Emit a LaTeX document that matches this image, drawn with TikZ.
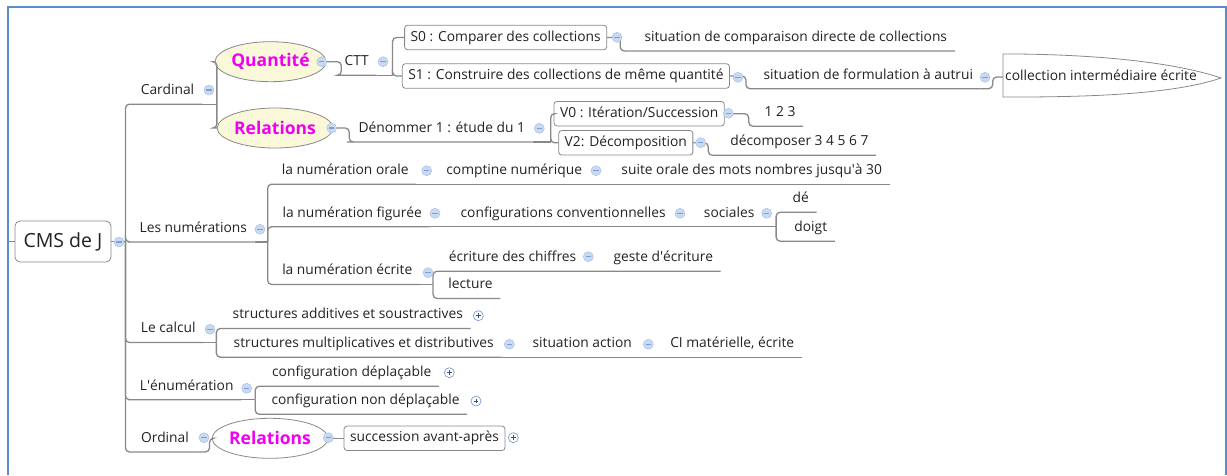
\documentclass[tikz,border=0pt]{standalone}
\usepackage{fontspec}
\setmainfont{Open Sans}
\usepackage{tikz}
\usetikzlibrary{shapes.geometric}

\definecolor{lnclr}{HTML}{888888}
\definecolor{txtclr}{HTML}{222222}
\definecolor{mkfill}{HTML}{C8DAF2}
\definecolor{mkring}{HTML}{A9C1E6}
\definecolor{mkbar}{HTML}{7F9DD3}
\definecolor{mkplus}{HTML}{2F4F8F}
\definecolor{ellfill}{HTML}{FBF8DA}
\definecolor{relclr}{HTML}{F000F0}
\definecolor{frameclr}{HTML}{5B8BCB}

\begin{document}
\begin{tikzpicture}[
  x=1pt, y=-1pt,
  conn/.style={draw=lnclr, line width=1.3pt, rounded corners=4pt},
  topic/.style={font=\fontsize{13.8}{16}\selectfont, text=txtclr,
                minimum height=26pt, inner xsep=7.5pt, inner ysep=0pt,
                text height=10.2pt, text depth=3.2pt},
  boxtopic/.style={topic, draw=lnclr, line width=0.8pt, rounded corners=3pt,
                   fill=white, minimum height=24.5pt, inner xsep=6pt},
  rootbox/.style={draw=lnclr, line width=0.8pt, rounded corners=5pt, fill=white,
                  minimum width=96pt, minimum height=41pt,
                  font=\fontsize{19.5}{22}\selectfont, text=txtclr},
  rel/.style={ellipse, draw=lnclr, line width=0.8pt, fill=ellfill, inner sep=0pt,
              minimum width=98pt, minimum height=40pt,
              font=\fontsize{17.5}{20}\selectfont\bfseries, text=relclr},
  minus/.style={circle, fill=mkfill, draw=mkring, line width=0.5pt,
                minimum size=10pt, inner sep=0pt,
                path picture={\draw[mkbar, line width=1.1pt]
                  ([xshift=-2.6pt]path picture bounding box.center) --
                  ([xshift=2.6pt]path picture bounding box.center);}},
  plus/.style={circle, fill=white, draw=mkbar, line width=0.7pt,
               minimum size=10pt, inner sep=0pt,
               path picture={\draw[mkplus, line width=0.9pt]
                 ([xshift=-2.4pt]path picture bounding box.center) --
                 ([xshift=2.4pt]path picture bounding box.center)
                 ([yshift=-2.4pt]path picture bounding box.center) --
                 ([yshift=2.4pt]path picture bounding box.center);}},
]
\useasboundingbox (0,0) rectangle (1227,475);
\draw[frameclr, line width=2pt] (7.5,475) -- (7.5,6.7) -- (1225.5,6.7) -- (1225.5,475);

% central topic
\node[rootbox] (Root) at (63,241.5) {CMS de J};

% Cardinal (top)
\node[topic] (Card) at (167.5,91) {Cardinal};
\node[rel, minimum width=89pt] (Qty) at (270.5,61.7) {Quantité};
\node[rel] (RelC) at (275,128) {Relations};
\node[topic] (CTT) at (356.7,62) {CTT};
\node[boxtopic] (S0) at (505.7,37.5) {S0 : Comparer des collections};
\node[boxtopic] (S1) at (565.9,76) {S1 : Construire des collections de même quantité};
\node[topic] (Comp) at (795.8,37.7) {situation de comparaison directe de collections};
\node[topic] (Form) at (868.3,75.5) {situation de formulation à autrui};
\draw[lnclr, line width=0.8pt] (1003,54) -- (1017,54) .. controls (1110,55) and (1180,64) .. (1221,78)
  .. controls (1180,92) and (1110,97) .. (1017,97) -- (1003,97) -- cycle;
\node[topic, anchor=west, inner xsep=2pt] (Coll) at (1003,77) {collection intermédiaire écrite};
\node[topic] (Den) at (441.8,128.7) {Dénommer 1 : étude du 1};
\node[boxtopic] (V0) at (639.2,113.7) {V0 : Itération/Succession};
\node[boxtopic] (V2) at (625.8,142.8) {V2: Décomposition};
\node[topic] (Seq) at (780,113) {1 2 3};
\node[topic] (Dec) at (799.5,142) {décomposer 3 4 5 6 7};

% Les numerations
\node[topic] (Num) at (193.3,228.7) {Les numérations};
\node[topic] (Orale) at (345.3,171) {la numération orale};
\node[topic] (Compt) at (514.2,171) {comptine numérique};
\node[topic] (Suite) at (751.7,171) {suite orale des mots nombres jusqu\textquotesingle à 30};
\node[topic] (Fig) at (352.2,213.5) {la numération figurée};
\node[topic] (Conf) at (563.2,213.5) {configurations conventionnelles};
\node[topic] (Soc) at (729.2,213.5) {sociales};
\node[topic] (De) at (800.8,199) {dé};
\node[topic] (Doigt) at (810.8,228) {doigt};
\node[topic] (Ecr) at (347.3,271.3) {la numération écrite};
\node[topic] (Ecrit) at (512.5,258) {écriture des chiffres};
\node[topic] (Geste) at (663.3,258) {geste d\textquotesingle écriture};
\node[topic] (Lect) at (470.5,285.3) {lecture};

% Le calcul
\node[topic] (Calc) at (168.3,329.3) {Le calcul};
\node[topic] (Add) at (347.8,315.3) {structures additives et soustractives};
\node[topic] (Mult) at (363.7,344) {structures multiplicatives et distributives};
\node[topic] (SitAct) at (582.2,344) {situation action};
\node[topic] (CI) at (732.2,344) {CI matérielle, écrite};

% L'enumeration
\node[topic] (Enum) at (186.7,386.5) {L\textquotesingle énumération};
\node[topic] (Depl) at (351.7,373) {configuration déplaçable};
\node[topic] (NonDepl) at (365.5,401) {configuration non déplaçable};

% Ordinal (bottom)
\node[topic] (Ord) at (165,438.7) {Ordinal};
\node[rel, fill=white] (RelO) at (270,438.3) {Relations};
\node[boxtopic] (Succ) at (424.5,438.3) {succession avant-après};

% trunk
\draw[conn] (Root.west) -- ++(-8,0);
\draw[conn] (Root.east) -- ++(14,0) coordinate (jRoot);
\draw[conn] (jRoot) |- (Card.south west) -- (Card.south east);
\draw[conn] (jRoot) |- (Num.south west) -- (Num.south east);
\draw[conn] (jRoot) |- (Calc.south west) -- (Calc.south east);
\draw[conn] (jRoot) |- (Enum.south west) -- (Enum.south east);
\draw[conn] (jRoot) |- (Ord.south west) -- (Ord.south east);

% Cardinal branches
\draw[conn] (Card.south east) -- ++(15,0) coordinate (jCard);
\draw[conn] (jCard) |- (Qty.west);
\draw[conn] (jCard) |- (RelC.west);
\draw[conn] (Qty.east) -- ++(15,0) |- (CTT.south west) -- (CTT.south east);
\draw[conn] (CTT.south east) -- ++(16,0) coordinate (jCTT);
\draw[conn] (jCTT) |- (S0.west);
\draw[conn] (jCTT) |- (S1.west);
\draw[conn] (S0.east) -- ++(13,0) |- (Comp.south west) -- (Comp.south east);
\draw[conn] (S1.east) -- ++(16,0) |- (Form.south west) -- (Form.south east);
\draw[conn] (Form.south east) -- ++(12,0) |- (Coll.west);
\draw[conn] (RelC.east) -- ++(16,0) |- (Den.south west) -- (Den.south east);
\draw[conn] (Den.south east) -- ++(18,0) coordinate (jDen);
\draw[conn] (jDen) |- (V0.west);
\draw[conn] (jDen) |- (V2.west);
\draw[conn] (V0.east) -- ++(24,0) |- (Seq.south west) -- (Seq.south east);
\draw[conn] (V2.east) -- ++(15,0) |- (Dec.south west) -- (Dec.south east);

% numeration branches
\draw[conn] (Num.south east) -- ++(13,0) coordinate (jNum);
\draw[conn] (jNum) |- (Orale.south west) -- (Orale.south east);
\draw[conn] (jNum) |- (Fig.south west) -- (Fig.south east);
\draw[conn] (jNum) |- (Ecr.south west) -- (Ecr.south east);
\draw[conn] (Orale.south east) -- (Compt.south east) -- (Suite.south east);
\draw[conn] (Fig.south east) -- (Conf.south east) -- (Soc.south east);
\draw[conn] (Soc.south east) -- ++(14,0) coordinate (jSoc);
\draw[conn] (jSoc) |- (De.south west) -- (De.south east);
\draw[conn] (jSoc) |- (Doigt.south west) -- (Doigt.south east);
\draw[conn] (Ecr.south east) -- ++(13,0) coordinate (jEcr);
\draw[conn] (jEcr) |- (Ecrit.south west) -- (Ecrit.south east) -- (Geste.south east);
\draw[conn] (jEcr) |- (Lect.south west) -- (Lect.south east);

% calcul, enumeration, ordinal
\draw[conn] (Calc.south east) -- ++(13,0) coordinate (jCalc);
\draw[conn] (jCalc) |- (Add.south west) -- (Add.south east);
\draw[conn] (jCalc) |- (Mult.south west) -- (Mult.south east);
\draw[conn] (Mult.south east) -- (SitAct.south east) -- (CI.south east);
\draw[conn] (Enum.south east) -- ++(14,0) coordinate (jEnum);
\draw[conn] (jEnum) |- (Depl.south west) -- (Depl.south east);
\draw[conn] (jEnum) |- (NonDepl.south west) -- (NonDepl.south east);
\draw[conn] (Ord.south east) -- ++(13,0) |- (RelO.west);
\draw[conn] (RelO.east) -- (Succ.west);

% collapse / expand markers
\node[minus] (mRoot) at (119,242) {};
\node[minus] (mCard) at (209,90) {};
\node[minus] (mQty) at (321.7,61.7) {};
\node[minus] (mCTT) at (383,61.7) {};
\node[minus] (mS0) at (617,37.3) {};
\node[minus] (mS1) at (738,77.3) {};
\node[minus] (mForm) at (985,77.3) {};
\node[minus] (mRelC) at (331.7,128) {};
\node[minus] (mDen) at (539.3,128.3) {};
\node[minus] (mV0) at (728.3,113.3) {};
\node[minus] (mV2) at (700.7,142.7) {};
\node[minus] (mNum) at (260,229.3) {};
\node[minus] (mOrale) at (426.7,170.7) {};
\node[minus] (mCompt) at (596,170.7) {};
\node[minus] (mFig) at (435,213.3) {};
\node[minus] (mConf) at (680,213.3) {};
\node[minus] (mSoc) at (766.7,213.3) {};
\node[minus] (mEcr) at (428,272.7) {};
\node[minus] (mEcrit) at (588.3,256.7) {};
\node[minus] (mCalc) at (210,329.3) {};
\node[minus] (mMult) at (509.3,344.3) {};
\node[minus] (mSitAct) at (648.3,344.3) {};
\node[minus] (mEnum) at (246.7,388.3) {};
\node[minus] (mOrd) at (204,437.7) {};
\node[minus] (mRelO) at (328.3,437.7) {};
\node[plus] (pAdd) at (478.3,315.7) {};
\node[plus] (pDepl) at (449.3,372.7) {};
\node[plus] (pNonDepl) at (476,401) {};
\node[plus] (pSucc) at (513.3,437.7) {};
\end{tikzpicture}
\end{document}
